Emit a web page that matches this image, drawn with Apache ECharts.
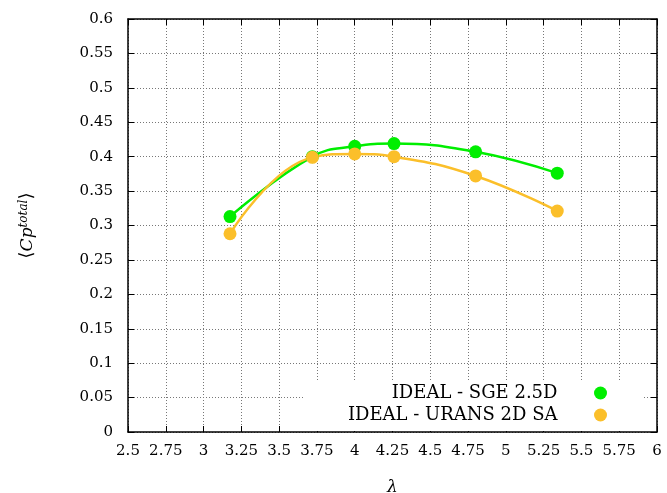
<!DOCTYPE html>
<html><head><meta charset="utf-8">
<script src="https://cdn.jsdelivr.net/npm/echarts@6/dist/echarts.min.js"></script>
<style>html,body{margin:0;padding:0;background:#fff}#c{width:667px;height:493px}</style>
</head><body><div id="c"></div>
<script>
const lambdaVals = [3.175, 3.72, 4.0, 4.26, 4.80, 5.34];
const sgeVals    = [0.313, 0.400, 0.415, 0.419, 0.407, 0.376];
const uransVals  = [0.288, 0.399, 0.404, 0.400, 0.372, 0.321];
const seriesNames = ['IDEAL - SGE 2.5D', 'IDEAL - URANS 2D SA'];
const xTickLabels = ['2.5','2.75','3','3.25','3.5','3.75','4','4.25','4.5','4.75','5','5.25','5.5','5.75','6'];
const yTickLabels = ['0','0.05','0.1','0.15','0.2','0.25','0.3','0.35','0.4','0.45','0.5','0.55','0.6'];
const xMin = 2.5, xMax = 6, xStep = 0.25;
const yMin = 0, yMax = 0.6, yStep = 0.05;

const FONT = 'DejaVu Serif';
const pair = (xs, ys) => xs.map((x, i) => [x, ys[i]]);
const xFmt = v => xTickLabels[Math.round((v - xMin) / xStep)] || '';
const yFmt = v => yTickLabels[Math.round((v - yMin) / yStep)] || '';

const gridLine = {show: true, lineStyle: {type: [1, 2], color: '#777', width: 1}};
const axLine = {show: true, onZero: false, lineStyle: {color: '#000', width: 1.5}};
const tick = {show: true, inside: true, length: 6, lineStyle: {color: '#000', width: 1}};
const legendText = {fontFamily: FONT, fontSize: 18, color: '#000'};
const legendCommon = {orient: 'vertical', right: 24, align: 'right', icon: 'circle',
  itemWidth: 76, itemHeight: 13, backgroundColor: '#fff', textStyle: legendText};

const chart = echarts.init(document.getElementById('c'));
chart.setOption({
  backgroundColor: '#fff',
  animation: false,
  grid: {left: 128, right: 10, top: 19, bottom: 61, containLabel: false, outerBoundsMode: 'none'},
  xAxis: [{
    type: 'value', min: xMin, max: xMax, interval: xStep,
    axisLine: axLine, axisTick: tick, splitLine: gridLine,
    axisLabel: {formatter: xFmt, fontFamily: FONT, fontSize: 15, color: '#000', margin: 12},
    name: 'λ', nameLocation: 'middle', nameGap: 47,
    nameTextStyle: {fontFamily: FONT, fontSize: 17, fontStyle: 'italic', color: '#000'}
  }, {
    type: 'value', position: 'top', min: xMin, max: xMax, interval: xStep,
    axisLine: axLine, axisTick: tick, splitLine: {show: false}, axisLabel: {show: false}
  }],
  yAxis: [{
    type: 'value', min: yMin, max: yMax, interval: yStep,
    axisLine: axLine, axisTick: tick, splitLine: gridLine,
    axisLabel: {formatter: yFmt, fontFamily: FONT, fontSize: 15, color: '#000', margin: 15},
    name: '{b|⟨}{i|Cp}{s|total}{b|⟩}', nameLocation: 'middle', nameGap: 92, nameRotate: 90,
    nameTextStyle: {fontFamily: FONT, fontSize: 17, color: '#000',
      rich: {
        b: {fontFamily: FONT, fontSize: 18, color: '#000', verticalAlign: 'middle'},
        i: {fontFamily: FONT, fontSize: 17, fontStyle: 'italic', color: '#000', verticalAlign: 'bottom'},
        s: {fontFamily: FONT, fontSize: 12, fontStyle: 'italic', color: '#000', verticalAlign: 'top'}
      }}
  }, {
    type: 'value', position: 'right', min: yMin, max: yMax, interval: yStep,
    axisLine: axLine, axisTick: tick, splitLine: {show: false}, axisLabel: {show: false}
  }],
  legend: [
    Object.assign({}, legendCommon, {top: 381, padding: [3, 36, 1, 88], data: [seriesNames[0]]}),
    Object.assign({}, legendCommon, {top: 403, padding: [3, 36, 7, 43], data: [seriesNames[1]]})
  ],
  series: [{
    name: seriesNames[0], type: 'line', data: pair(lambdaVals, sgeVals),
    smooth: 0.45, symbol: 'circle', symbolSize: 13, color: '#00ee00',
    lineStyle: {width: 2.5, color: '#00ee00'}, itemStyle: {color: '#00ee00'}
  }, {
    name: seriesNames[1], type: 'line', data: pair(lambdaVals, uransVals),
    smooth: 0.45, symbol: 'circle', symbolSize: 13, color: '#fbbf2a',
    lineStyle: {width: 2.5, color: '#fbbf2a'}, itemStyle: {color: '#fbbf2a'}
  }]
});
</script></body></html>
